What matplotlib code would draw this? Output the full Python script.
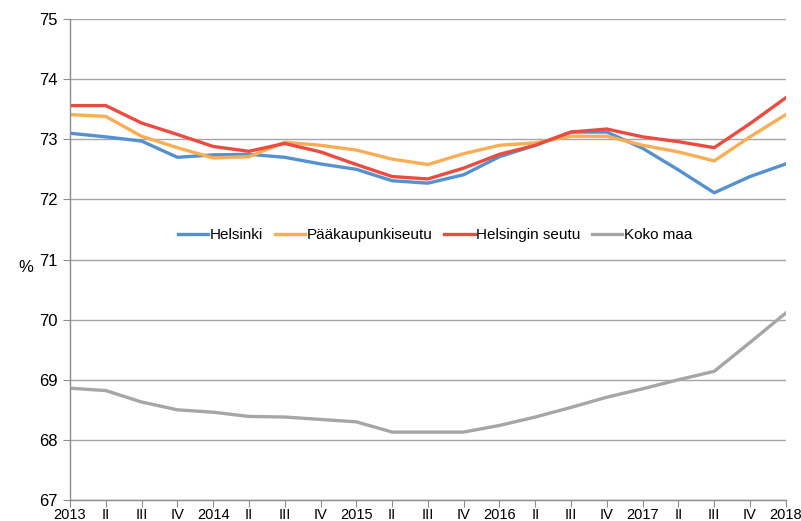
import matplotlib
matplotlib.use("Agg")
import matplotlib.pyplot as plt

plt.rcParams['font.family'] = ['Liberation Sans', 'DejaVu Sans']

labels = ["2013", "II", "III", "IV", "2014", "II", "III", "IV", "2015", "II", "III", "IV",
          "2016", "II", "III", "IV", "2017", "II", "III", "IV", "2018"]

helsinki = [73.10, 73.04, 72.97, 72.70, 72.74, 72.75, 72.70, 72.59, 72.50, 72.31, 72.27,
            72.41, 72.71, 72.90, 73.12, 73.12, 72.85, 72.49, 72.11, 72.38, 72.59]
paakaupunkiseutu = [73.41, 73.38, 73.05, 72.86, 72.69, 72.71, 72.95, 72.90, 72.82, 72.67, 72.58,
                    72.76, 72.90, 72.94, 73.05, 73.05, 72.90, 72.79, 72.64, 73.04, 73.41]
helsingin_seutu = [73.56, 73.56, 73.27, 73.08, 72.88, 72.80, 72.93, 72.79, 72.58, 72.38, 72.34,
                   72.52, 72.75, 72.90, 73.12, 73.17, 73.04, 72.96, 72.86, 73.26, 73.69]
koko_maa = [68.86, 68.82, 68.63, 68.50, 68.46, 68.39, 68.38, 68.34, 68.30, 68.13, 68.13,
            68.13, 68.24, 68.38, 68.54, 68.71, 68.85, 69.00, 69.14, 69.62, 70.11]

series = [
    ("Helsinki", helsinki, "#5591D0"),
    ("Pääkaupunkiseutu", paakaupunkiseutu, "#F9AE55"),
    ("Helsingin seutu", helsingin_seutu, "#EC4B3F"),
    ("Koko maa", koko_maa, "#A6A6A6"),
]

fig = plt.figure(figsize=(8.01, 5.21), dpi=100)
ax = fig.add_axes([0.0874, 0.0403, 0.8936, 0.9232])

x = list(range(len(labels)))
for name, vals, col in series:
    ax.plot(x, vals, color=col, lw=2.4, label=name, solid_joinstyle='round')

ax.set_xlim(0, len(labels) - 1)
ax.set_ylim(67, 75)
ax.set_yticks(range(67, 76))
ax.set_xticks(x)
ax.set_xticklabels(labels)
ax.grid(axis='y', color='#A6A6A6', lw=1)
ax.set_axisbelow(True)

for s in ['top', 'right']:
    ax.spines[s].set_visible(False)
for s in ['left', 'bottom']:
    ax.spines[s].set_color('#8C8C8C')
    ax.spines[s].set_linewidth(1)

ax.tick_params(axis='y', length=5, color='#8C8C8C', labelsize=12, pad=4)
ax.tick_params(axis='x', length=5, color='#8C8C8C', labelsize=10.5, pad=1)

fig.text(18 / 801, 1 - 268 / 521, "%", fontsize=12, ha='left', va='center')

leg = ax.legend(loc='center', bbox_to_anchor=(0.51, (71.4 - 67) / 8), ncol=4, frameon=False,
                fontsize=11, handlelength=2.0, handletextpad=0.1, columnspacing=0.75)

fig.savefig("out.png", dpi=100)
